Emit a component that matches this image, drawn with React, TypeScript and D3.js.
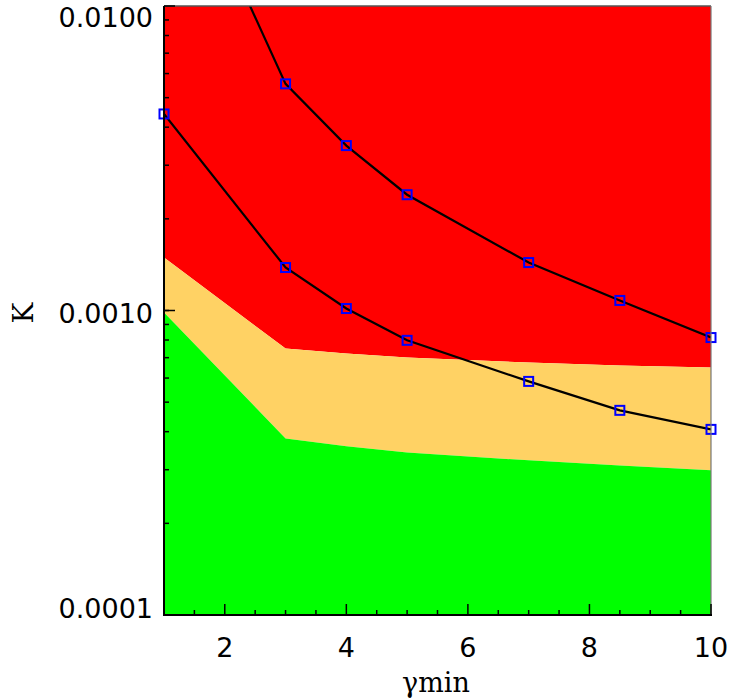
import React from "react";
import * as d3 from "d3";

const gammaBound = [1, 3, 4, 5, 7, 8.5, 10];
const redOrange = [0.001492, 0.00075, 0.000723, 0.000701, 0.000675, 0.00066, 0.00065];
const orangeGreen = [0.000985, 0.00038, 0.000358, 0.000342, 0.000322, 0.00031, 0.000299];

const upperX = [2, 3, 4, 5, 7, 8.5, 10];
const upperK = [0.0152, 0.00555, 0.00348, 0.0024, 0.001437, 0.001079, 0.000815];
const lowerX = [1, 3, 4, 5, 7, 8.5, 10];
const lowerK = [0.00442, 0.001384, 0.001015, 0.000798, 0.000585, 0.00047, 0.000407];

const xTicks = [2, 4, 6, 8, 10];
const yTicks = [0.0001, 0.001, 0.01];
const yTickLabels = ["0.0001", "0.0010", "0.0100"];

const W = 729, H = 700;
const L = 164, R = 711, T = 6, B = 615;

export default function App() {
  const x = d3.scaleLinear().domain([1, 10]).range([L, R]);
  const y = d3.scaleLog().domain([0.0001, 0.01]).range([B, T]);

  const idx = gammaBound.map((_, i) => i);
  const greenArea = d3.area<number>().x(i => x(gammaBound[i])).y0(B).y1(i => y(orangeGreen[i]))(idx) || "";
  const orangeArea = d3.area<number>().x(i => x(gammaBound[i])).y0(i => y(orangeGreen[i])).y1(i => y(redOrange[i]))(idx) || "";
  const redArea = d3.area<number>().x(i => x(gammaBound[i])).y0(i => y(redOrange[i])).y1(T)(idx) || "";

  const line = d3.line<[number, number]>().x(d => x(d[0])).y(d => y(d[1]));
  const upper = upperX.map((v, i) => [v, upperK[i]] as [number, number]);
  const lower = lowerX.map((v, i) => [v, lowerK[i]] as [number, number]);

  const xMinor = d3.range(1, 10.01, 0.5);
  const yMinor: number[] = [];
  [0.0001, 0.001].forEach(d => { for (let k = 1; k <= 9; k++) yMinor.push(d * k); });

  const tickFont = "'DejaVu Sans', sans-serif";
  const serif = "'DejaVu Serif', serif";

  return (
    <svg width={W} height={H} style={{ position: "absolute", left: 0, top: 0 }}>
      <defs>
        <clipPath id="plot"><rect x={L} y={T} width={R - L} height={B - T} /></clipPath>
      </defs>
      <path d={redArea} fill="#ff0000" />
      <path d={orangeArea} fill="#ffd264" />
      <path d={greenArea} fill="#00ff00" />
      <g clipPath="url(#plot)">
        <path d={line(upper) || ""} fill="none" stroke="#000" strokeWidth={2.2} />
        <path d={line(lower) || ""} fill="none" stroke="#000" strokeWidth={2.2} />
      </g>
      {[...upper, ...lower].filter(d => y(d[1]) >= T).map((d, i) => (
        <rect key={i} x={x(d[0]) - 4.5} y={y(d[1]) - 4.5} width={9} height={9} fill="none" stroke="#0000ff" strokeWidth={2} />
      ))}
      {/* frame */}
      <line x1={L} x2={R} y1={T} y2={T} stroke="#555" strokeWidth={1.5} />
      <line x1={R} x2={R} y1={T} y2={B} stroke="#777" strokeWidth={1.2} />
      <line x1={L} x2={L} y1={T} y2={B + 1} stroke="#000" strokeWidth={2} />
      <line x1={L - 1} x2={R + 1} y1={B} y2={B} stroke="#000" strokeWidth={2} />
      {/* x ticks */}
      {xMinor.map((v, i) => {
        const major = Math.abs(v % 2) < 1e-9;
        return <line key={"xm" + i} x1={x(v)} x2={x(v)} y1={B} y2={B - (major ? 11 : 5)} stroke="#000" strokeWidth={1.5} />;
      })}
      {xTicks.map(v => (
        <text key={"xt" + v} x={x(v)} y={657} textAnchor="middle" fontFamily={tickFont} fontSize={27}>{v}</text>
      ))}
      {/* y ticks */}
      {yMinor.map((v, i) => (
        <line key={"ym" + i} x1={L} x2={L + 5} y1={y(v)} y2={y(v)} stroke="#000" strokeWidth={1.5} />
      ))}
      {yTicks.map(v => (
        <line key={"yM" + v} x1={L} x2={L + 11} y1={y(v)} y2={y(v)} stroke="#000" strokeWidth={1.5} />
      ))}
      {yTicks.map((v, i) => {
        const c = Math.max(T + 11, Math.min(B - 7, y(v) + 2));
        return <text key={"yt" + v} x={153} y={c + 10} textAnchor="end" fontFamily={tickFont} fontSize={27}>{yTickLabels[i]}</text>;
      })}
      <text x={436} y={692} textAnchor="middle" fontFamily={serif} fontSize={27}>γmin</text>
      <text transform={`translate(33,313) rotate(-90)`} textAnchor="middle" fontFamily={serif} fontSize={28}>K</text>
    </svg>
  );
}
